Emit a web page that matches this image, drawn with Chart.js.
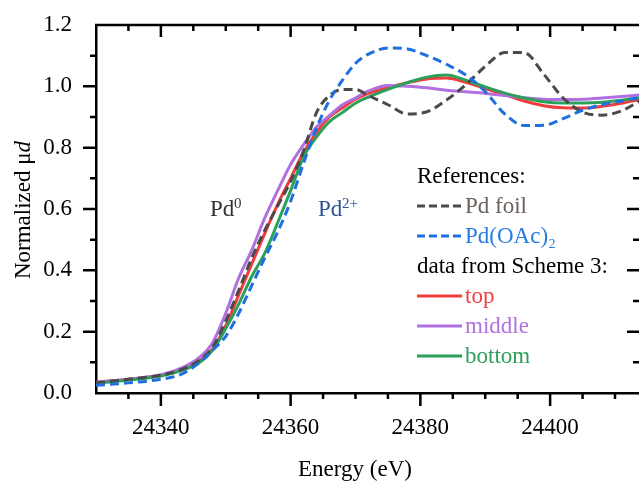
<!DOCTYPE html>
<html>
<head>
<meta charset="utf-8">
<script src="https://cdn.jsdelivr.net/npm/chart.js@4.4.1/dist/chart.umd.min.js"></script>
<style>body{margin:0;background:#fff}canvas{display:block}</style>
</head>
<body>
<canvas id="xanes" width="639" height="484"></canvas>
<script>
const energy = [24330, 24335, 24340, 24343, 24346, 24348, 24350, 24352, 24354, 24356, 24358, 24360,
  24362, 24364, 24366, 24368, 24370, 24372, 24375, 24378, 24381, 24384, 24387, 24390,
  24393, 24396, 24399, 24402, 24405, 24408, 24411, 24414];

const pdFoil = [0.033, 0.045, 0.058, 0.075, 0.108, 0.15, 0.235, 0.335, 0.44, 0.53, 0.61, 0.69,
  0.79, 0.915, 0.97, 0.99, 0.99, 0.97, 0.94, 0.91, 0.917, 0.955, 1.005, 1.065,
  1.11, 1.11, 1.04, 0.962, 0.916, 0.906, 0.92, 0.955];
const pdOAc = [0.025, 0.033, 0.045, 0.06, 0.1, 0.14, 0.185, 0.26, 0.35, 0.44, 0.525, 0.625,
  0.75, 0.865, 0.955, 1.02, 1.075, 1.105, 1.125, 1.122, 1.1, 1.072, 1.037, 0.983,
  0.91, 0.872, 0.873, 0.895, 0.922, 0.94, 0.952, 0.965];
const top_ = [0.035, 0.045, 0.058, 0.075, 0.105, 0.145, 0.22, 0.32, 0.42, 0.52, 0.615, 0.7,
  0.785, 0.85, 0.9, 0.93, 0.958, 0.977, 0.996, 1.012, 1.024, 1.027, 1.013, 0.993,
  0.973, 0.952, 0.937, 0.93, 0.929, 0.935, 0.945, 0.958];
const middle = [0.035, 0.045, 0.06, 0.08, 0.117, 0.165, 0.26, 0.375, 0.465, 0.57, 0.66, 0.745,
  0.81, 0.867, 0.905, 0.94, 0.962, 0.985, 1.003, 1.0, 0.995, 0.987, 0.982, 0.977,
  0.97, 0.963, 0.958, 0.957, 0.958, 0.962, 0.967, 0.972];
const bottom = [0.032, 0.042, 0.055, 0.072, 0.1, 0.14, 0.21, 0.29, 0.38, 0.455, 0.555, 0.66,
  0.77, 0.835, 0.885, 0.915, 0.945, 0.965, 0.99, 1.012, 1.03, 1.037, 1.02, 0.998,
  0.978, 0.962, 0.95, 0.946, 0.946, 0.948, 0.955, 0.963];

const xTicks = [24340, 24360, 24380, 24400];
const yTicks = [0, 0.2, 0.4, 0.6, 0.8, 1.0, 1.2];

const names = ['Pd foil', 'Pd(OAc)₂', 'top', 'middle', 'bottom'];
const lineColors = ['#4a4a4a', '#1f6fe0', '#f03c3c', '#b070e0', '#2aa05a'];
const textColors = ['#6a605c', '#2a7be0', '#f04040', '#b070e0', '#2e9e5a'];
const series = [pdFoil, pdOAc, top_, middle, bottom];
const dashed = [true, true, false, false, false];
const drawOrder = [2, 1, 5, 4, 3];

const FONT = '"Liberation Serif", "Times New Roman", serif';
const xMin = 24330, xMax = 24413.7;

const pts = vals => energy.map((e, i) => ({ x: e, y: vals[i] }));

const frame = {
  id: 'frame',
  afterDraw(chart) {
    const { ctx, chartArea: a, scales: { x, y } } = chart;
    ctx.save();
    ctx.strokeStyle = '#000';
    ctx.lineWidth = 2.5;
    ctx.beginPath();
    ctx.moveTo(a.left - 1, a.top);
    ctx.lineTo(a.right, a.top);
    for (let e = 24335; e < xMax; e += 5) {
      const px = x.getPixelForValue(e);
      const major = e % 20 === 0;
      ctx.moveTo(px, a.bottom);
      ctx.lineTo(px, a.bottom + (major ? 13 : 6));
      ctx.moveTo(px, a.top);
      ctx.lineTo(px, a.top + (major ? 12 : 6));
    }
    for (let k = 1; k <= 11; k++) {
      const py = y.getPixelForValue(k / 10);
      const major = k % 2 === 0;
      ctx.moveTo(a.left, py);
      ctx.lineTo(a.left - (major ? 13 : 6), py);
      ctx.moveTo(a.right, py);
      ctx.lineTo(a.right - (major ? 12 : 6), py);
    }
    ctx.stroke();

    // axis titles
    ctx.fillStyle = '#000';
    ctx.font = '23px ' + FONT;
    ctx.textAlign = 'center';
    ctx.textBaseline = 'alphabetic';
    ctx.fillText('Energy (eV)', 355, 476);

    ctx.save();
    ctx.translate(30, 210);
    ctx.rotate(-Math.PI / 2);
    ctx.textAlign = 'left';
    const t1 = 'Normalized μ';
    const w1 = ctx.measureText(t1).width;
    ctx.font = 'italic 23px ' + FONT;
    const w2 = ctx.measureText('d').width;
    const x0 = -(w1 + w2) / 2;
    ctx.font = '23px ' + FONT;
    ctx.fillText(t1, x0, 0);
    ctx.font = 'italic 23px ' + FONT;
    ctx.fillText('d', x0 + w1, 0);
    ctx.restore();

    // oxidation state labels
    ctx.textAlign = 'left';
    ctx.font = '23px ' + FONT;
    ctx.fillStyle = '#333333';
    ctx.fillText('Pd', 210, 216);
    ctx.font = '15px ' + FONT;
    ctx.fillText('0', 234, 208);
    ctx.font = '23px ' + FONT;
    ctx.fillStyle = '#2f5597';
    ctx.fillText('Pd', 318, 216);
    ctx.font = '15px ' + FONT;
    ctx.fillText('2+', 342, 208);

    // legend
    const rows = ['References:', 0, 1, 'data from Scheme 3:', 2, 3, 4];
    ctx.font = '23px ' + FONT;
    rows.forEach((r, i) => {
      const base = 183 + i * 30;
      if (typeof r === 'string') {
        ctx.fillStyle = '#000';
        ctx.fillText(r, 417, base);
        return;
      }
      const ds = chart.data.datasets[r];
      ctx.strokeStyle = ds.borderColor;
      ctx.lineWidth = 3;
      ctx.setLineDash(dashed[r] ? [8, 4] : []);
      ctx.beginPath();
      ctx.moveTo(417, base - 7);
      ctx.lineTo(462, base - 7);
      ctx.stroke();
      ctx.setLineDash([]);
      ctx.fillStyle = textColors[r];
      ctx.fillText(ds.label, 465, base);
    });
    ctx.restore();
  }
};

new Chart(document.getElementById('xanes'), {
  type: 'line',
  data: {
    datasets: series.map((s, i) => ({
      label: names[i],
      data: pts(s),
      borderColor: lineColors[i],
      borderWidth: 3,
      borderDash: dashed[i] ? [9, 5] : [],
      pointRadius: 0,
      fill: false,
      cubicInterpolationMode: 'monotone',
      order: drawOrder[i]
    }))
  },
  options: {
    responsive: false,
    animation: false,
    layout: { padding: { top: 25, right: 0, left: 0, bottom: 0 } },
    plugins: { legend: { display: false }, tooltip: { enabled: false } },
    scales: {
      x: {
        type: 'linear',
        min: xMin,
        max: xMax,
        afterBuildTicks: s => { s.ticks = xTicks.map(v => ({ value: v })); },
        afterFit: s => { s.height = 91; s.paddingLeft = 0; s.paddingRight = 0; },
        grid: { display: false, drawTicks: false },
        border: { display: true, color: '#000', width: 2.5 },
        ticks: {
          color: '#000',
          font: { family: FONT, size: 23 },
          padding: 21,
          maxRotation: 0,
          callback: v => String(v)
        }
      },
      y: {
        min: 0,
        max: 1.2,
        afterBuildTicks: s => { s.ticks = yTicks.map(v => ({ value: v })); },
        afterFit: s => { s.width = 96; s.paddingTop = 0; s.paddingBottom = 0; },
        grid: { display: false, drawTicks: false },
        border: { display: true, color: '#000', width: 2.5 },
        ticks: {
          color: '#000',
          font: { family: FONT, size: 23 },
          padding: 24,
          callback: v => v.toFixed(1)
        }
      }
    }
  },
  plugins: [frame]
});
</script>
</body>
</html>
